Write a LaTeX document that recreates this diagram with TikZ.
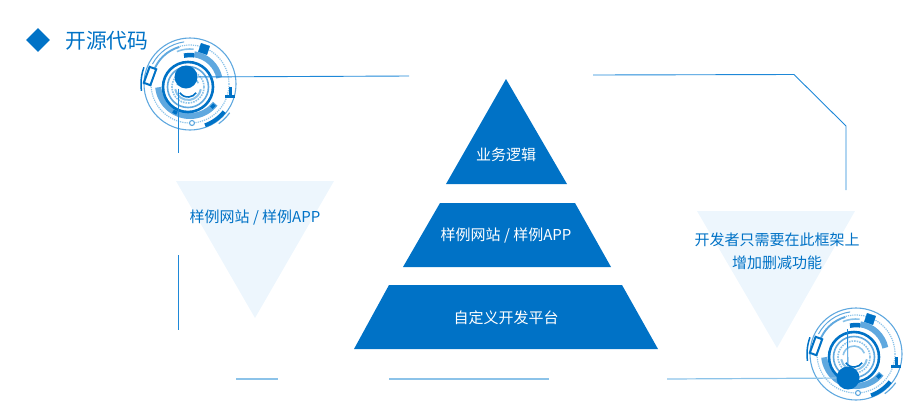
\documentclass[tikz,border=0pt]{standalone}
\usepackage{fontspec}
\setmainfont{Noto Sans CJK SC}
\usetikzlibrary{shapes.geometric}
\definecolor{mainblue}{HTML}{0072C6}
\definecolor{paleblue}{HTML}{EDF6FD}
\definecolor{lineblue}{HTML}{1E88D8}
\definecolor{fadeblue}{HTML}{8CC3E9}
\definecolor{midblue}{HTML}{5FA8DF}
\tikzstyle{block}=[fill=mainblue,draw=none]
\tikzstyle{pale}=[fill=paleblue,draw=none]
\tikzstyle{inlabel}=[text=white,font=\fontsize{15pt}{18pt}\selectfont,inner sep=0pt]
\tikzstyle{outlabel}=[text=mainblue,font=\fontsize{15pt}{18pt}\selectfont,inner sep=0pt]
\tikzstyle{wire}=[draw=lineblue,line width=0.9pt]
\tikzstyle{fadewire}=[draw=fadeblue,line width=1.2pt]
\tikzstyle{hubdot}=[circle,fill=mainblue,inner sep=0pt,minimum size=23pt]
\newcommand{\ringarc}[4][]{\draw[#1] (#2:#4) arc[start angle=#2,end angle=#3,radius=#4];}
\newcommand{\emblem}[2]{%
  \begin{scope}[shift={(#1,#2)},x=1pt,y=1pt]
    \draw[midblue,line width=1.1pt] (0,0) circle (46);
    \draw[fadeblue,densely dotted,line width=1.2pt] (0,0) circle (39);
    % upper left strokes
    \ringarc[midblue,line width=1pt]{98}{152}{42.5}
    \ringarc[midblue,line width=1.8pt]{106}{160}{38.5}
    \ringarc[fadeblue,line width=1.6pt]{84}{112}{35}
    \ringarc[mainblue,line width=1.5pt]{160}{188}{49}
    \draw[mainblue,line width=2pt,fill=white,rotate around={-20:(-40,8)}]
      (-43.5,-0.5) rectangle (-36.5,16.5);
    \draw[mainblue,fill=mainblue,rotate around={-18:(14,35)}]
      (9.5,30.5) rectangle (18.5,39.5);
    \ringarc[midblue,line width=6pt]{12}{82}{30}
    \ringarc[mainblue,line width=4.5pt]{82}{102}{29}
    % right side
    \fill[mainblue] (38.5,-3) rectangle (42,-12);
    \fill[mainblue] (35,-11) rectangle (45,-14);
    \ringarc[mainblue,line width=4pt]{-70}{-39}{44}
    \ringarc[midblue,line width=1.2pt]{-54}{-36}{49}
    \ringarc[midblue,line width=6pt]{186}{322}{32}
    \ringarc[mainblue,line width=3.5pt]{238}{246}{32}
    \ringarc[mainblue,line width=3.5pt]{312}{320}{32}
    \draw[midblue,fill=white,line width=1.1pt] (2,-39) circle (2.5);
    % inner rings
    \begin{scope}[shift={(-2,-3)}]
      \draw[mainblue,line width=2.6pt] (0,0) circle (25);
      \draw[midblue,line width=1.6pt] (0,0) circle (20.5);
      \draw[fadeblue,densely dotted,line width=1.6pt] (0,0) circle (16);
      \ringarc[mainblue,line width=1.6pt]{215}{325}{10}
      \ringarc[fadeblue,line width=1.6pt]{20}{170}{11}
      \ringarc[fadeblue,line width=2pt]{190}{350}{13}
    \end{scope}
  \end{scope}}

\begin{document}
\begin{tikzpicture}[x=1pt,y=-1pt]
    \useasboundingbox (0,0) rectangle (920,400);
    \node (mark) at (38,40) [diamond,fill=mainblue,inner sep=0pt,
      minimum width=24pt,minimum height=24pt]{};
    \node (title) at (65,40.5) [anchor=west,inner sep=0pt,text=mainblue,
      font=\fontsize{20.8pt}{24pt}\selectfont]{开源代码};

    % pale triangles
    \draw[pale] (176,181) -- (334,181) -- (255,318) -- cycle;
    \draw[pale] (697,211) -- (855,211) -- (777,348) -- cycle;

    % pyramid
    \draw[block] (506,79) -- (567,184) -- (446,184) -- cycle;
    \draw[block] (440,203) -- (575,203) -- (611,267) -- (403,267) -- cycle;
    \draw[block] (389,285) -- (622,285) -- (658,349) -- (354,349) -- cycle;
    \node (logic) at (506,154.5) [inlabel]{业务逻辑};
    \node (sample) at (506,235.5) [inlabel]{样例网站 / 样例APP};
    \node (platform) at (506,317.5) [inlabel]{自定义开发平台};
    \node (left) at (255,217.5) [outlabel]{样例网站 / 样例APP};
    \node (right) at (777,251) [outlabel,align=center]
      {开发者只需要在此框架上\\[5pt]增加删减功能};

    \emblem{190}{84}
    \emblem{856}{354}

    \coordinate (a1) at (409,76);
    \coordinate (a2) at (178.5,153);
    \coordinate (b1) at (178,255);
    \coordinate (b2) at (178,330);
    \coordinate (c1) at (236,379);
    \coordinate (c2) at (278,379);
    \coordinate (d1) at (389,379);
    \coordinate (d2) at (549,379);
    \coordinate (e1) at (667,379);
    \coordinate (f1) at (593,75);
    \coordinate (f2) at (794,74.5);
    \coordinate (f3) at (846,126);
    \coordinate (f4) at (846,190);
    \coordinate (g1) at (847.5,329);

    \node (hubA) at (186,77) [hubdot]{};
    \node (hubB) at (848,378) [hubdot]{};
    \draw[wire] (hubA) -- (a1);
    \draw[wire] (a2 |- hubA.south) -- (a2);
    \draw[wire] (b1) -- (b2);
    \draw[fadewire] (c1) -- (c2);
    \draw[fadewire] (d1) -- (d2);
    \draw[fadewire] (e1) -- (hubB);
    \draw[wire] (f1) -- (f2) -- (f3) -- (f4);
    \draw[wire] (g1) -- (hubB);
\end{tikzpicture}
\end{document}
